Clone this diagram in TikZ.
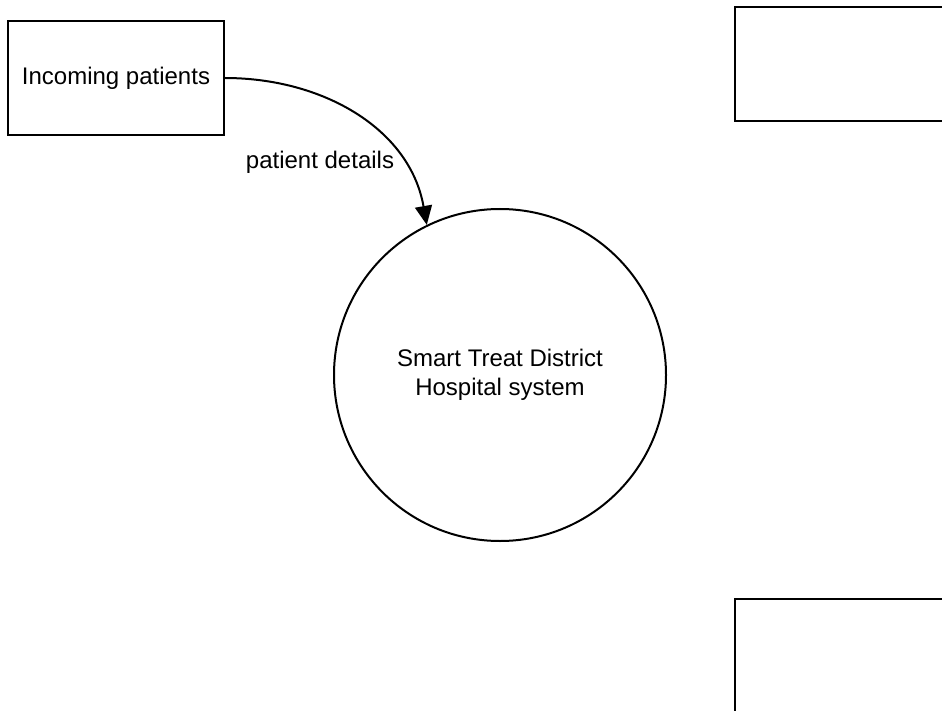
\documentclass[tikz,border=0pt]{standalone}
\usepackage{fontspec}
\setmainfont{Liberation Sans}
\usetikzlibrary{positioning}
\usetikzlibrary{arrows.meta}
\usetikzlibrary{shapes}
\tikzset{
        dfdnode/.style={align=center,inner sep=0pt,line width=2pt,font=\fontsize{24}{29}\selectfont},
        % External entities
        node_entity/.style={dfdnode, rectangle, draw=black, fill=white, minimum width=216pt, minimum height=114pt},
        % Process
        node_process/.style={dfdnode, circle, draw=black, fill=white, minimum size=332pt},
        % Flow labels
        node_flow/.style={dfdnode, fill=white, inner sep=1pt}
}
\begin{document}
\begin{tikzpicture}[
            x=1pt, y=-1pt,
            >={Triangle[length=19pt,width=17pt]},
            flow/.style={->, line width=2pt}
        ]
            \useasboundingbox (0,0) rectangle (942,711);
            \clip (0,0) rectangle (942,711);
            \node[node_entity] (patients) at (116,78) {Incoming patients};
            \node[node_entity] (top_entity) at (843,64) {};
            \node[node_entity] (bottom_entity) at (843,656) {};
            \node[node_process] (system) at (500,375) {Smart Treat District\\Hospital system};
            \node[node_flow] (details) at (320,162) {patient details};

            \draw[flow] (patients.east) to[out=0, in=100] (system.116);
\end{tikzpicture}
\end{document}
